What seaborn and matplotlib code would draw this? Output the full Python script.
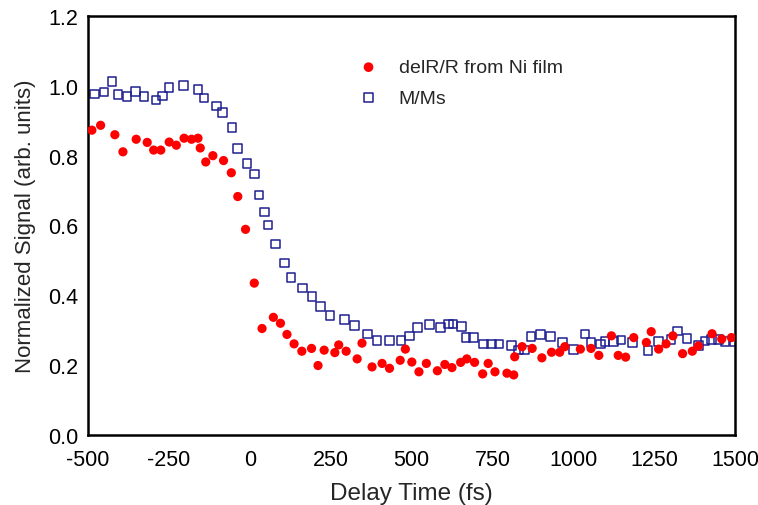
import numpy as np
import pandas as pd
import matplotlib
matplotlib.use("Agg")
import matplotlib.pyplot as plt
import seaborn as sns
from matplotlib.ticker import MultipleLocator

red_x = [-488, -461, -417, -392, -351, -317, -297, -275, -249, -227, -203, -180, -160, -153,
         -136, -114, -81, -57, -37, -13, 14, 38, 73, 95, 115, 137, 161, 191, 211, 230, 263,
         275, 298, 332, 347, 378, 409, 432, 465, 481, 501, 523, 546, 580, 603, 625, 652, 671,
         695, 720, 737, 758, 795, 816, 819, 842, 873, 903, 933, 958, 974, 1022, 1055, 1079,
         1118, 1139, 1162, 1187, 1226, 1241, 1264, 1287, 1308, 1338, 1368, 1387, 1429, 1459, 1489]
red_y = [0.873, 0.887, 0.860, 0.811, 0.847, 0.838, 0.816, 0.816, 0.839, 0.830, 0.850, 0.847,
         0.850, 0.822, 0.782, 0.800, 0.786, 0.751, 0.683, 0.589, 0.435, 0.305, 0.337, 0.320,
         0.288, 0.261, 0.240, 0.248, 0.199, 0.243, 0.236, 0.258, 0.240, 0.218, 0.263, 0.195,
         0.205, 0.191, 0.214, 0.246, 0.209, 0.181, 0.205, 0.184, 0.202, 0.193, 0.208, 0.218,
         0.208, 0.175, 0.205, 0.181, 0.177, 0.172, 0.224, 0.253, 0.248, 0.221, 0.237, 0.237,
         0.253, 0.246, 0.248, 0.228, 0.284, 0.228, 0.223, 0.279, 0.265, 0.296, 0.246, 0.261,
         0.284, 0.233, 0.240, 0.255, 0.290, 0.275, 0.279]

blue_x = [-480, -450, -426, -407, -380, -354, -327, -290, -270, -249, -205, -160, -141, -102,
          -84, -55, -37, -9, 14, 29, 45, 56, 79, 107, 128, 163, 193, 218, 248, 293, 323, 364,
          393, 432, 468, 493, 519, 556, 589, 615, 628, 654, 669, 692, 723, 747, 770, 809, 830,
          849, 869, 899, 930, 967, 1000, 1036, 1055, 1085, 1098, 1125, 1148, 1184, 1231, 1264,
          1302, 1323, 1351, 1387, 1407, 1428, 1449, 1469, 1497]
blue_y = [0.976, 0.982, 1.012, 0.975, 0.969, 0.983, 0.970, 0.959, 0.971, 0.995, 1.001, 0.990,
          0.965, 0.942, 0.923, 0.881, 0.820, 0.778, 0.748, 0.687, 0.639, 0.601, 0.547, 0.493,
          0.451, 0.421, 0.397, 0.368, 0.343, 0.331, 0.313, 0.289, 0.270, 0.270, 0.270, 0.284,
          0.308, 0.317, 0.308, 0.318, 0.318, 0.310, 0.280, 0.280, 0.261, 0.261, 0.261, 0.256,
          0.243, 0.243, 0.282, 0.288, 0.282, 0.265, 0.245, 0.289, 0.265, 0.261, 0.267, 0.267,
          0.272, 0.265, 0.242, 0.267, 0.274, 0.298, 0.277, 0.256, 0.269, 0.274, 0.274, 0.267,
          0.267]

x_ticks = [-500, -250, 0, 250, 500, 750, 1000, 1250, 1500]
y_ticks = [0.0, 0.2, 0.4, 0.6, 0.8, 1.0, 1.2]
label_red = "delR/R from Ni film"
label_blue = "M/Ms"

sns.set_style("white")
plt.rcParams['font.family'] = ['Liberation Sans', 'DejaVu Sans']

fig = plt.figure(figsize=(7.58, 5.06), dpi=100)
ax = fig.add_axes([88/758, 70/506, (735-88)/758, (436-17)/506])

df_red = pd.DataFrame({"t": red_x, "s": red_y})
df_blue = pd.DataFrame({"t": blue_x, "s": blue_y})

sns.scatterplot(data=df_red, x="t", y="s", ax=ax, marker="o", s=44, color="#ff0000",
                edgecolor="none", label=label_red, zorder=3)
sns.scatterplot(data=df_blue, x="t", y="s", ax=ax, marker="s", s=38, facecolor="none",
                edgecolor="#1f1f8f", linewidth=1.1, label=label_blue, zorder=2)

ax.set_xlim(-500, 1500)
ax.set_ylim(0.0, 1.2)
ax.set_xticks(x_ticks)
ax.set_xticklabels([str(v) for v in x_ticks])
ax.set_yticks(y_ticks)
ax.set_yticklabels([f"{v:.1f}" for v in y_ticks])
ax.xaxis.set_minor_locator(MultipleLocator(125))
ax.yaxis.set_minor_locator(MultipleLocator(0.1))
ax.tick_params(axis="both", which="both", direction="in", top=False, right=False,
               labelsize=15.5, colors="black")
ax.tick_params(axis="x", which="major", length=6, width=1.2, pad=10)
ax.tick_params(axis="y", which="major", length=6, width=1.2, pad=7)
ax.tick_params(axis="both", which="minor", length=4, width=1.0)
for sp in ax.spines.values():
    sp.set_linewidth(1.8)
    sp.set_color("black")

ax.set_xlabel("Delay Time (fs)", fontsize=17.5, labelpad=9)
ax.set_ylabel("Normalized Signal (arb. units)", fontsize=16, labelpad=9)

leg = ax.legend(loc="upper left", bbox_to_anchor=(0.3765, 0.94), frameon=False,
                fontsize=14, handletextpad=0.55, labelspacing=0.65, markerscale=1.05)

fig.savefig("out.png", dpi=100)
